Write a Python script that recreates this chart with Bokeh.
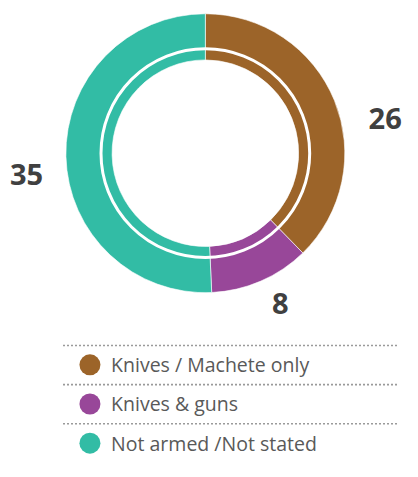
import math
from bokeh.plotting import figure
from bokeh.models import Range1d, ColumnDataSource
from bokeh.core.properties import value
from bokeh.embed import file_html
from bokeh.resources import INLINE

# ---- data ----
categories = ["Knives / Machete only", "Knives & guns", "Not armed /Not stated"]
counts = [26, 8, 35]
colors = ["#9C6429", "#984799", "#32BCA5"]

# ---- layout: data units follow the 418x477 reference frame ----
W, H = 402, 461
REF_W, REF_H = 418, 477
def sy(y):  # reference screen y -> data y
    return REF_H - y

cx, cy = 213, sy(158)
r_in, r_out = 97, 145
r_gap = 108.5
# label offsets from the centre (pixels, screen direction) for each slice
label_offsets = [(187, -36), (78, 156), (-186, 22)]

p = figure(width=W, height=H, output_backend="svg", toolbar_location=None,
           x_range=Range1d(0, REF_W), y_range=Range1d(0, REF_H),
           min_border=0)
p.axis.visible = False
p.grid.visible = False
p.outline_line_color = None
p.background_fill_color = "white"
p.border_fill_color = "white"

total = sum(counts)
starts, ends = [], []
acc = 0
for c in counts:
    starts.append(math.pi / 2 - 2 * math.pi * acc / total)
    acc += c
    ends.append(math.pi / 2 - 2 * math.pi * acc / total)

src = ColumnDataSource(dict(start=starts, end=ends, color=colors, cat=categories, n=counts))
p.annular_wedge(x=cx, y=cy, inner_radius=r_in, outer_radius=r_out,
                start_angle="start", end_angle="end", direction="clock",
                fill_color="color", line_color="white", line_width=0.6, source=src)
# white separation ring
p.circle(x=cx, y=cy, radius=r_gap, fill_color=None, line_color="white", line_width=3)

# value labels
lx = [cx + dx for dx, dy in label_offsets]
ly = [cy - dy for dx, dy in label_offsets]
p.text(x=lx, y=ly, text=[str(c) for c in counts], text_align="center",
       text_baseline="middle", text_font=value("Open Sans"), text_font_style="bold",
       text_font_size="29px", text_color="#404040")

# legend
leg_top = 357
leg_step = 40.5
line_y = [sy(leg_top + i * leg_step) for i in range(len(categories))]
p.segment(x0=65, x1=413, y0=line_y, y1=line_y, line_color="#9a9a9a",
          line_width=1.6, line_dash="2 2")
item_y = [sy(leg_top + 20 + i * leg_step) for i in range(len(categories))]
p.scatter(x=93, y=item_y, size=21, marker="circle", fill_color=colors, line_color=None)
p.text(x=115, y=item_y, text=categories, text_align="left", text_baseline="middle",
       text_font=value("Open Sans"), text_font_size="19.5px", text_color="#595959")

open("out.html", "w").write(file_html(p, INLINE))
